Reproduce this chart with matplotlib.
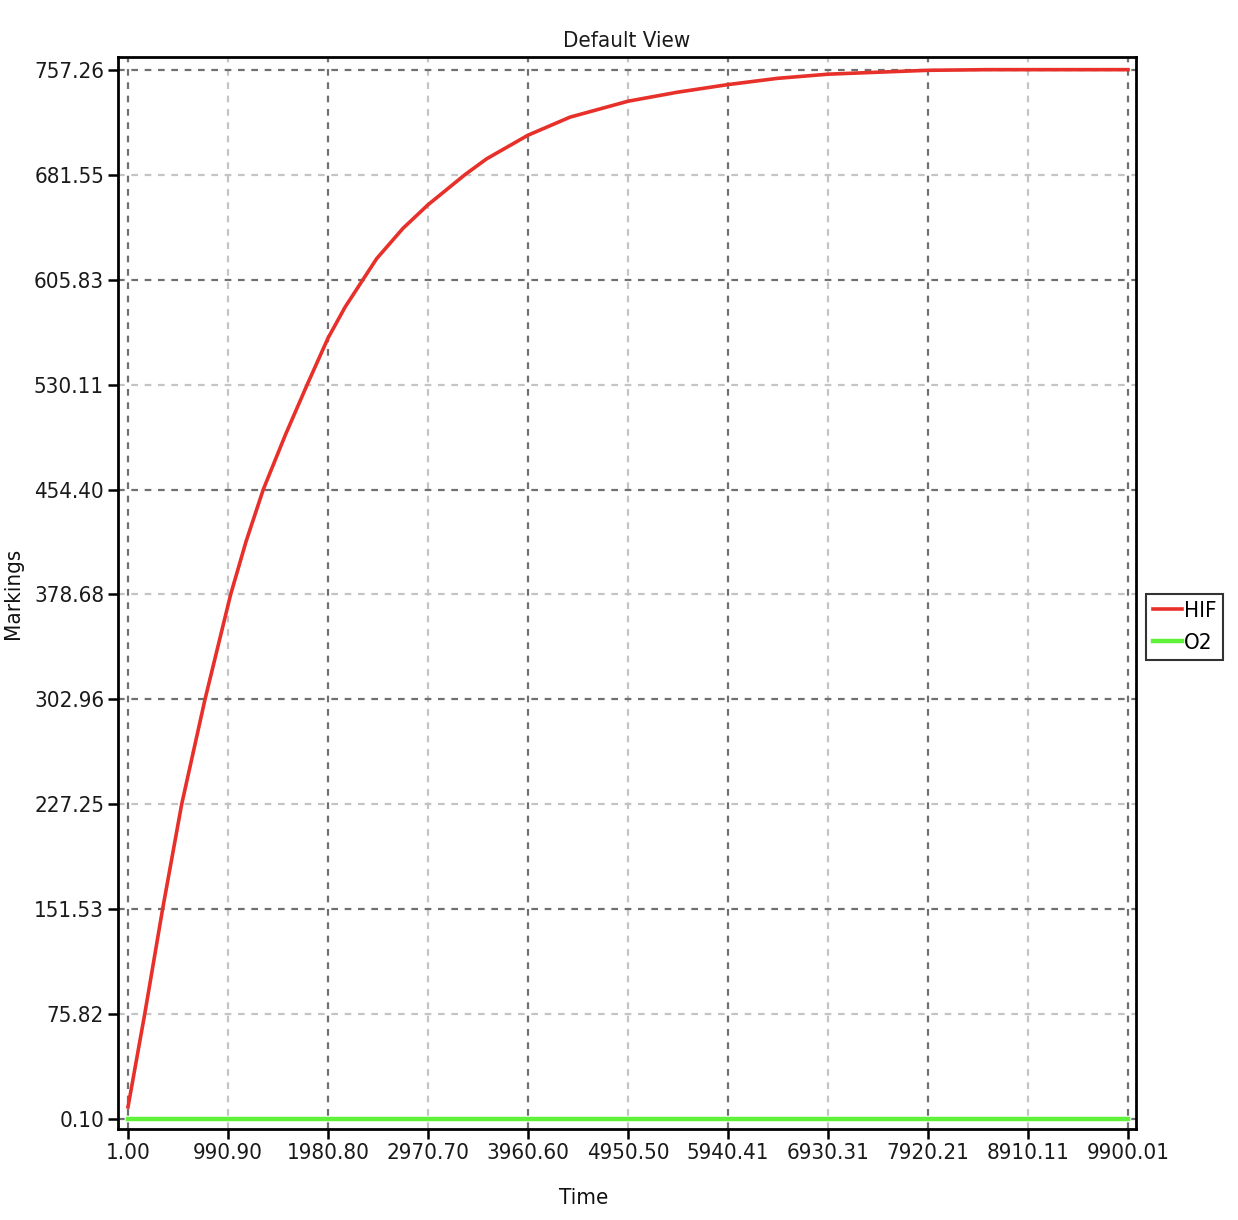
import matplotlib
matplotlib.use("Agg")
import matplotlib.pyplot as plt

# tick values shown on the axes
x_ticks = [1.00, 990.90, 1980.80, 2970.70, 3960.60, 4950.50, 5940.41, 6930.31, 7920.21, 8910.11, 9900.01]
y_ticks = [0.10, 75.82, 151.53, 227.25, 302.96, 378.68, 454.40, 530.11, 605.83, 681.55, 757.26]

# HIF curve
hif_t = [1, 166, 343, 532, 763, 1017, 1170, 1340, 1560, 1775, 1980.8, 2150, 2327, 2463,
         2723, 2970.7, 3337, 3552, 3960.6, 4376, 4950.5, 5440, 5940.4, 6430, 6930.3,
         7450, 7920.2, 8500, 9200, 9900.01]
hif_v = [9, 75.82, 151.53, 227.25, 302.96, 378.68, 417, 454.4, 494, 530.11, 563.6, 586, 605.83, 621,
         642.8, 659.8, 681.55, 693, 710, 723, 734.5, 741, 746.5, 751, 754,
         755.5, 756.8, 757.26, 757.26, 757.26]

# O2 stays flat at the bottom
o2_t = [1.00, 9900.01]
o2_v = [0.10, 0.10]

plt.rcParams['font.family'] = ['DejaVu Sans']
plt.rcParams['font.stretch'] = 'condensed'

fig = plt.figure(figsize=(12.38, 12.2), dpi=100)
ax = fig.add_axes([118 / 1238, 91 / 1220, 1018 / 1238, 1072 / 1220])

# alternating dark / light dashed grid
for i, xv in enumerate(x_ticks):
    c = '#707070' if i % 2 == 0 else '#c4c4c4'
    ax.axvline(xv, color=c, lw=1.6, ls=(0, (3, 3)), zorder=1)
for i, yv in enumerate(y_ticks):
    c = '#707070' if i % 2 == 0 else '#c4c4c4'
    ax.axhline(yv, color=c, lw=1.6, ls=(0, (3, 3)), zorder=1)

ax.plot(hif_t, hif_v, color='#e8302a', lw=2.6, label='HIF', zorder=3)
ax.plot(o2_t, o2_v, color='#5ef23a', lw=3.2, label='O2', zorder=3)

ax.set_xlim(-98, 9979)
ax.set_ylim(-6.9, 766.4)
ax.set_xticks(x_ticks)
ax.set_xticklabels(['%.2f' % v for v in x_ticks])
ax.set_yticks(y_ticks)
ax.set_yticklabels(['%.2f' % v for v in y_ticks])
ax.tick_params(labelsize=16, length=7, width=1.8, color='black', labelcolor='#1a1a1a', pad=3)

for s in ax.spines.values():
    s.set_linewidth(2)
    s.set_color('black')

ax.set_title('Default View', fontsize=16, pad=7, color='#1a1a1a')
ax.set_xlabel('Time', fontsize=16, color='#111111')
ax.set_ylabel('Markings', fontsize=16, color='#111111')
ax.xaxis.set_label_coords(0.457, -0.055)
ax.yaxis.set_label_coords(-0.093, 0.5)

leg = ax.legend(loc='upper left', bbox_to_anchor=(1.0098, 0.499), fontsize=16,
                frameon=True, fancybox=False, edgecolor='black', handlelength=1.3,
                handletextpad=0.1, borderpad=0.3, labelspacing=0.55, borderaxespad=0)
leg.get_frame().set_linewidth(1.5)

fig.savefig('out.png', dpi=100)
